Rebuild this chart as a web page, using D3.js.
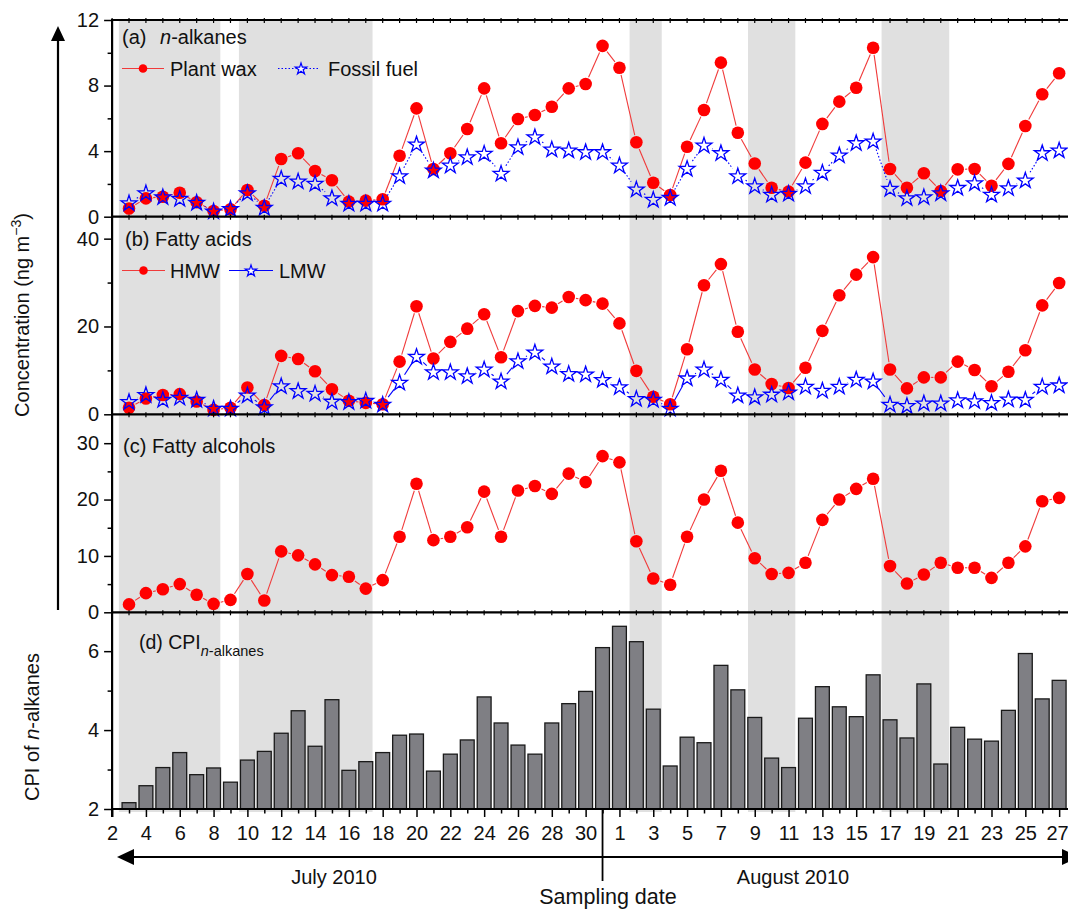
<!DOCTYPE html>
<html><head><meta charset="utf-8">
<script src="https://cdn.jsdelivr.net/npm/d3@7"></script>
<style>
body{margin:0;background:#fff}
text{font-family:"Liberation Sans",Arial,Helvetica,sans-serif;fill:#111}
</style>
</head><body>
<svg id="c" width="1068" height="911"></svg>
<script>
// ---------- data ----------
const dates = ["Jul 3","Jul 4","Jul 5","Jul 6","Jul 7","Jul 8","Jul 9","Jul 10","Jul 11","Jul 12","Jul 13","Jul 14","Jul 15","Jul 16","Jul 17","Jul 18","Jul 19","Jul 20","Jul 21","Jul 22","Jul 23","Jul 24","Jul 25","Jul 26","Jul 27","Jul 28","Jul 29","Jul 30","Jul 31",
"Aug 1","Aug 2","Aug 3","Aug 4","Aug 5","Aug 6","Aug 7","Aug 8","Aug 9","Aug 10","Aug 11","Aug 12","Aug 13","Aug 14","Aug 15","Aug 16","Aug 17","Aug 18","Aug 19","Aug 20","Aug 21","Aug 22","Aug 23","Aug 24","Aug 25","Aug 26","Aug 27"];
// day position of each date, counted from July 2 (= 0)
const dayPos = [1,2,3,4,5,6,7,8,9,10,11,12,13,14,15,16,17,18,19,20,21,22,23,24,25,26,27,28,29,
30,31,32,33,34,35,36,37,38,39,40,41,42,43,44,45,46,47,48,49,50,51,52,53,54,55,56];
const xTickPos = [0,2,4,6,8,10,12,14,16,18,20,22,24,26,28,30,32,34,36,38,40,42,44,46,48,50,52,54,56];
const xTickLabels = ["2","4","6","8","10","12","14","16","18","20","22","24","26","28","30","1","3","5","7","9","11","13","15","17","19","21","23","25","27"];
const xMinorPos = [1,3,5,7,9,11,13,15,17,19,21,23,25,27,29,31,33,35,37,39,41,43,45,47,49,51,53,55];

const plantWax = [0.5,1.12,1.22,1.46,0.88,0.35,0.45,1.63,0.67,3.52,3.87,2.79,2.22,0.92,0.98,1.06,3.72,6.61,2.91,3.87,5.35,7.83,4.48,5.96,6.2,6.71,7.83,8.1,10.42,
9.09,4.54,2.07,1.32,4.27,6.51,9.4,5.12,3.25,1.77,1.53,3.3,5.66,7.02,7.87,10.31,2.91,1.77,2.65,1.57,2.89,2.91,1.89,3.22,5.53,7.47,8.75];
const fossilFuel = [0.85,1.46,1.22,1.12,0.88,0.35,0.5,1.46,0.57,2.34,2.18,2.04,1.16,0.82,0.82,0.82,2.5,4.44,2.85,3.15,3.66,3.87,2.65,4.27,4.88,4.13,4.07,3.97,3.97,
3.15,1.69,1.06,1.18,2.95,4.37,3.91,2.5,1.89,1.37,1.43,1.89,2.71,3.77,4.52,4.62,1.73,1.16,1.22,1.46,1.79,2.07,1.37,1.77,2.24,3.91,4.07];
const hmw = [1.5,3.6,4.4,4.6,2.9,1.0,1.5,6.1,2.1,13.3,12.6,9.8,5.7,3.1,2.6,2.3,12.0,24.6,12.7,16.5,19.5,22.8,13.0,23.5,24.7,24.3,26.7,26.0,25.2,
20.7,9.9,4.0,2.3,14.8,29.4,34.2,18.8,10.2,6.9,6.0,10.6,19.0,27.1,31.8,35.8,10.2,5.9,8.4,8.4,12.0,10.1,6.4,9.7,14.6,24.8,29.9];
const lmw = [2.9,4.5,3.4,3.9,3.4,1.4,1.4,4.4,1.7,6.5,5.4,4.8,3.0,2.9,3.2,2.3,7.3,13.2,9.7,9.7,8.8,10.3,7.6,12.2,14.2,11.0,9.3,9.2,7.95,
6.3,3.6,3.4,1.4,8.3,10.3,8.0,4.4,4.0,4.6,5.1,6.4,5.5,6.4,8.0,7.6,2.3,2.0,2.6,2.6,3.3,3.1,2.7,3.5,3.4,6.4,6.7];
const fattyAlcohols = [1.4,3.4,4.1,5.0,3.1,1.5,2.2,6.8,2.1,10.8,10.1,8.5,6.6,6.3,4.2,5.7,13.4,22.8,12.8,13.4,15.1,21.4,13.4,21.6,22.4,21.0,24.6,23.1,27.7,
26.6,12.6,6.0,4.9,13.4,20.0,25.1,15.9,9.6,6.8,7.0,8.8,16.4,20.0,21.9,23.7,8.2,5.1,6.7,8.8,7.9,7.9,6.1,8.8,11.7,19.7,20.3];
const cpi = [2.16,2.59,3.05,3.43,2.87,3.04,2.68,3.24,3.46,3.92,4.49,3.59,4.77,2.98,3.20,3.43,3.87,3.90,2.96,3.39,3.75,4.84,4.18,3.62,3.39,4.18,4.67,4.98,6.09,
6.63,6.24,4.53,3.09,3.82,3.68,5.64,5.02,4.32,3.29,3.05,4.30,5.10,4.59,4.34,5.40,4.26,3.80,5.17,3.14,4.07,3.77,3.72,4.50,5.94,4.79,5.26];

// shaded periods, in day positions
const bandStart = [0.4,7.5,30.6,37.6,45.5];
const bandEnd   = [6.4,15.4,32.5,40.4,49.5];

const ticksA = [0,4,8,12],   minorA = [2,6,10];
const ticksB = [0,20,40],    minorB = [10,30];
const ticksC = [0,10,20,30], minorC = [5,15,25];
const ticksD = [2,4,6],      minorD = [3,5];

// ---------- layout ----------
const svg = d3.select("#c");
const LEFT = 112.1, RIGHT = 1068;
const x = d3.scaleLinear().domain([0, 56.5]).range([LEFT, 1067.6]);
const yA = d3.scaleLinear().domain([0,12]).range([216.7, 20]);
const yB = d3.scaleLinear().domain([0,45]).range([414.3, 216.7]);
const yC = d3.scaleLinear().domain([0,35]).range([612.3, 415]);
const yD = d3.scaleLinear().domain([2,7]).range([809, 611.7]);
const RED = "#ff0000", BLUE = "#0000ff";

// shaded bands
svg.append("g").selectAll("rect").data(bandStart).join("rect")
  .attr("x", (d,i)=>x(d)).attr("width",(d,i)=>x(bandEnd[i])-x(d))
  .attr("y", 20).attr("height", 812-20).attr("fill","#e0e0e0");

// bars
const step = x(1)-x(0), bw = step*0.82;
svg.append("g").selectAll("rect").data(cpi).join("rect")
  .attr("x",(d,i)=>x(dayPos[i])-bw/2).attr("width",bw)
  .attr("y",d=>yD(d)).attr("height",d=>yD(2)-yD(d))
  .attr("fill","#7f7f84").attr("stroke","#1a1a1a").attr("stroke-width",1.3);

// helpers
function starPath(R){
  const r = R*0.382, pts=[];
  for(let k=0;k<10;k++){
    const a = -Math.PI/2 + k*Math.PI/5, rr = k%2===0?R:r;
    pts.push([rr*Math.cos(a), rr*Math.sin(a)]);
  }
  return "M"+pts.map(p=>p[0].toFixed(2)+","+p[1].toFixed(2)).join("L")+"Z";
}
function gapLines(g, vals, y, gap, color, dash){
  const pts = vals.map((v,i)=>[x(dayPos[i]), y(v)]);
  const segs=[];
  for(let i=0;i<pts.length-1;i++){
    const [x1,y1]=pts[i],[x2,y2]=pts[i+1];
    const L=Math.hypot(x2-x1,y2-y1); if(L<=2*gap) continue;
    const ux=(x2-x1)/L, uy=(y2-y1)/L;
    segs.push([x1+ux*gap,y1+uy*gap,x2-ux*gap,y2-uy*gap]);
  }
  g.append("g").selectAll("line").data(segs).join("line")
    .attr("x1",d=>d[0]).attr("y1",d=>d[1]).attr("x2",d=>d[2]).attr("y2",d=>d[3])
    .attr("stroke",color).attr("stroke-width",1.1).attr("stroke-dasharray",dash||null);
}
function circles(g, vals, y){
  g.append("g").selectAll("circle").data(vals).join("circle")
    .attr("cx",(d,i)=>x(dayPos[i])).attr("cy",d=>y(d)).attr("r",6.3).attr("fill",RED);
}
function stars(g, vals, y){
  g.append("g").selectAll("path").data(vals).join("path")
    .attr("transform",(d,i)=>`translate(${x(dayPos[i])},${y(d)+0.7})`)
    .attr("d",starPath(8.3)).attr("fill","none").attr("stroke",BLUE).attr("stroke-width",1.3);
}

// series
const gs = svg.append("g");
gapLines(gs, plantWax, yA, 7.3, "#f03a3a");
circles(gs, plantWax, yA);
gapLines(gs, fossilFuel, yA, 9, BLUE, "1.5,2");
stars(gs, fossilFuel, yA);
gapLines(gs, hmw, yB, 7.3, "#f03a3a");
circles(gs, hmw, yB);
gapLines(gs, lmw, yB, 9, BLUE);
stars(gs, lmw, yB);
gapLines(gs, fattyAlcohols, yC, 7.3, "#f03a3a");
circles(gs, fattyAlcohols, yC);

// frame lines
const frame = svg.append("g").attr("stroke","#000").attr("stroke-width",2.2);
[20, 216.7, 414.3, 612.3, 809].forEach(yy=>{
  frame.append("line").attr("x1",LEFT).attr("x2",RIGHT).attr("y1",yy).attr("y2",yy);
});
frame.append("line").attr("x1",LEFT).attr("x2",LEFT).attr("y1",19).attr("y2",817);
// small day ticks on panel borders
const dayAll = xTickPos.concat(xMinorPos);
[20, 216.7, 414.3, 612.3].forEach(yy=>{
  svg.append("g").selectAll("line").data(dayAll).join("line")
    .attr("x1",d=>x(d)).attr("x2",d=>x(d)).attr("y1",yy-2).attr("y2",yy+3)
    .attr("stroke","#000").attr("stroke-width",1.2);
});

// y axes
function yAxis(scale, major, minor){
  const g1 = svg.append("g").attr("transform",`translate(${LEFT},0)`)
    .call(d3.axisLeft(scale).tickValues(major).tickSize(8).tickPadding(5).tickFormat(d3.format("d")));
  const g2 = svg.append("g").attr("transform",`translate(${LEFT},0)`)
    .call(d3.axisLeft(scale).tickValues(minor).tickSize(4.5).tickFormat(""));
  [g1,g2].forEach(g=>{
    g.select(".domain").remove();
    g.selectAll("line").attr("stroke","#000").attr("stroke-width",1.5);
    g.selectAll("text").attr("font-size",20).attr("fill","#111").style("font-family",'"Liberation Sans",Arial,sans-serif');
  });
}
yAxis(yA, ticksA, minorA);
yAxis(yB, ticksB, minorB);
yAxis(yC, ticksC, minorC);
yAxis(yD, ticksD, minorD);

// x axis
const gx = svg.append("g").attr("transform","translate(0,809)")
  .call(d3.axisBottom(x).tickValues(xTickPos).tickSize(8).tickPadding(9)
        .tickFormat((d,i)=>xTickLabels[i]));
const gx2 = svg.append("g").attr("transform","translate(0,809)")
  .call(d3.axisBottom(x).tickValues(xMinorPos).tickSize(4.5).tickFormat(""));
[gx,gx2].forEach(g=>{
  g.select(".domain").remove();
  g.selectAll("line").attr("stroke","#000").attr("stroke-width",1.5);
  g.selectAll("text").attr("font-size",20).attr("fill","#111").style("font-family",'"Liberation Sans",Arial,sans-serif');
});
// keep the last label inside the picture
gx.selectAll("text").filter((d,i)=>i===xTickLabels.length-1).attr("text-anchor","end").attr("dx",9);

// month arrows
const ann = svg.append("g");
ann.append("line").attr("x1",130).attr("x2",1062).attr("y1",857).attr("y2",857).attr("stroke","#000").attr("stroke-width",2.2);
ann.append("path").attr("d","M117,857 L134,849 L134,865 Z").attr("fill","#000");
ann.append("path").attr("d","M1079,857 L1062,849 L1062,865 Z").attr("fill","#000");
ann.append("line").attr("x1",x(29)).attr("x2",x(29)).attr("y1",809).attr("y2",881).attr("stroke","#000").attr("stroke-width",1.8);
ann.append("text").attr("x",334).attr("y",884).attr("text-anchor","middle").attr("font-size",20).text("July 2010");
ann.append("text").attr("x",793).attr("y",884).attr("text-anchor","middle").attr("font-size",20).text("August 2010");
ann.append("text").attr("x",608).attr("y",904).attr("text-anchor","middle").attr("font-size",21.5).text("Sampling date");

// vertical arrow + y titles
ann.append("line").attr("x1",58).attr("x2",58).attr("y1",38).attr("y2",610).attr("stroke","#000").attr("stroke-width",2.2);
ann.append("path").attr("d","M58,26 L51,41 L65,41 Z").attr("fill","#000");
const t1 = ann.append("text").attr("transform","translate(29,315) rotate(-90)").attr("text-anchor","middle").attr("font-size",20);
t1.append("tspan").text("Concentration (ng m");
t1.append("tspan").attr("font-size",14).attr("dy",-8).text("\u22123");
t1.append("tspan").attr("dy",8).text(")");
const t2 = ann.append("text").attr("transform","translate(39,727) rotate(-90)").attr("text-anchor","middle").attr("font-size",20);
t2.append("tspan").text("CPI of ");
t2.append("tspan").attr("font-style","italic").text("n");
t2.append("tspan").text("-alkanes");

// panel labels & legends
const lg = svg.append("g");
lg.append("text").attr("x",122).attr("y",44).attr("font-size",20).text("(a)");
const ta = lg.append("text").attr("x",160).attr("y",44).attr("font-size",20);
ta.append("tspan").attr("font-style","italic").text("n");
ta.append("tspan").text("-alkanes");
// plant wax legend
lg.append("line").attr("x1",122).attr("x2",164).attr("y1",68.5).attr("y2",68.5).attr("stroke","#f03a3a").attr("stroke-width",1.1);
lg.append("circle").attr("cx",143).attr("cy",68.5).attr("r",4.3).attr("fill",RED);
lg.append("text").attr("x",170).attr("y",76).attr("font-size",20).text("Plant wax");
lg.append("line").attr("x1",278).attr("x2",319).attr("y1",68.5).attr("y2",68.5).attr("stroke",BLUE).attr("stroke-width",1.1).attr("stroke-dasharray","1.5,2");
lg.append("path").attr("transform","translate(301,69)").attr("d",starPath(6)).attr("fill","#fff").attr("stroke",BLUE).attr("stroke-width",1.2);
lg.append("text").attr("x",328).attr("y",76).attr("font-size",20).text("Fossil fuel");

lg.append("text").attr("x",125).attr("y",246).attr("font-size",20).text("(b) Fatty acids");
lg.append("line").attr("x1",122).attr("x2",165).attr("y1",270.5).attr("y2",270.5).attr("stroke","#f03a3a").attr("stroke-width",1.1);
lg.append("circle").attr("cx",143.5).attr("cy",270.5).attr("r",4.3).attr("fill",RED);
lg.append("text").attr("x",170).attr("y",278).attr("font-size",20).text("HMW");
lg.append("line").attr("x1",229).attr("x2",273).attr("y1",270.5).attr("y2",270.5).attr("stroke",BLUE).attr("stroke-width",1.1);
lg.append("path").attr("transform","translate(251,271)").attr("d",starPath(6)).attr("fill","#fff").attr("stroke",BLUE).attr("stroke-width",1.2);
lg.append("text").attr("x",279).attr("y",278).attr("font-size",20).text("LMW");

lg.append("text").attr("x",123).attr("y",453).attr("font-size",20).text("(c) Fatty alcohols");

const td = lg.append("text").attr("x",139).attr("y",649).attr("font-size",19.5);
td.append("tspan").text("(d) CPI");
td.append("tspan").attr("font-size",14.5).attr("font-style","italic").attr("dy",7).text("n");
td.append("tspan").attr("font-size",14.5).text("-alkanes");
</script>
</body></html>
